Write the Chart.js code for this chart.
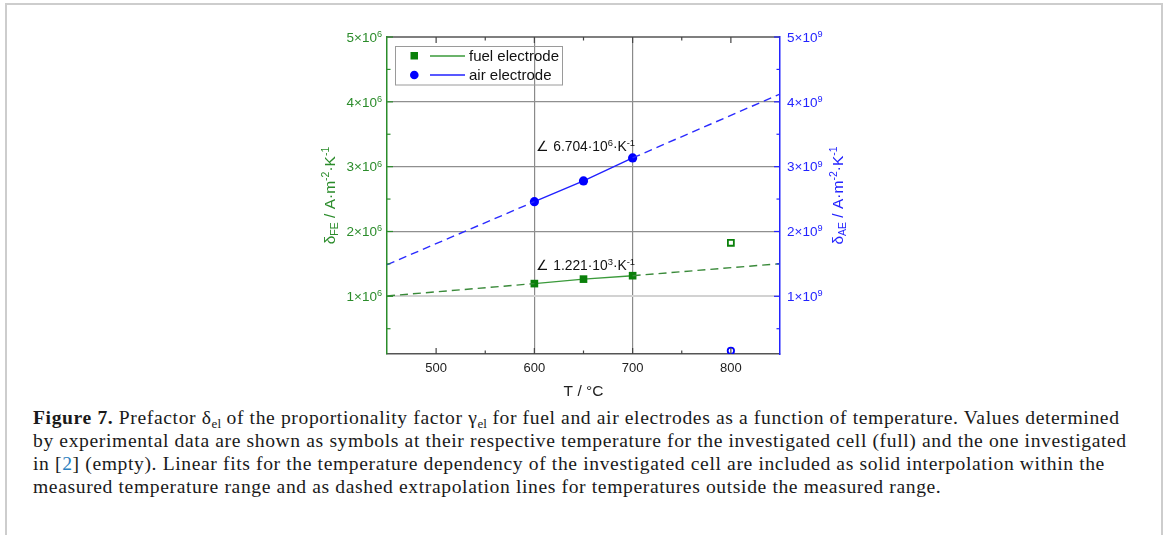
<!DOCTYPE html>
<html><head><meta charset="utf-8">
<script src="https://cdn.jsdelivr.net/npm/chart.js@4"></script>
<style>
html,body{margin:0;padding:0;background:#fff;width:1165px;height:535px;overflow:hidden;}
#frame{position:absolute;left:5px;top:3px;width:1154px;height:560px;border:2px solid #cdcdcd;border-bottom:none;}
#wrap{position:absolute;left:0;top:0;width:1165px;height:400px;}
#cap{position:absolute;left:33px;top:406px;font-family:"Liberation Serif","DejaVu Serif",serif;font-size:19.6px;letter-spacing:0.62px;line-height:23px;color:#1a1a1a;white-space:nowrap;}
#cap .s{font-size:13px;position:relative;top:4px;line-height:0;letter-spacing:0;}
#cap .lk{color:#2a7fc0;}
</style></head><body>
<div id="frame"></div>
<div id="wrap"><canvas id="c" width="1165" height="400"></canvas></div>
<div id="cap"><b>Figure 7.</b> Prefactor δ<span class="s">el</span> of the proportionality factor γ<span class="s">el</span> for fuel and air electrodes as a function of temperature. Values determined<br>by experimental data are shown as symbols at their respective temperature for the investigated cell (full) and the one investigated<br>in [<span class="lk">2</span>] (empty). Linear fits for the temperature dependency of the investigated cell are included as solid interpolation within the<br>measured temperature range and as dashed extrapolation lines for temperatures outside the measured range.</div>
<script>
// ---- data ----
const temps = [600, 650, 700];
const fuelValues = [1.196e6, 1.265e6, 1.318e6];
const airValues = [2.46e9, 2.78e9, 3.134e9];
const refTemps = [800];
const fuelRefValues = [1.826e6];
const airRefValues = [0.16e9];
const extrapTempsLow = [450, 600];
const extrapTempsHigh = [700, 850];
const fuelExtrapLow = [1.005e6, 1.196e6];
const fuelExtrapHigh = [1.318e6, 1.503e6];
const airExtrapLow = [1.488e9, 2.46e9];
const airExtrapHigh = [3.134e9, 4.12e9];
const xTicks = [500, 550, 600, 650, 700, 750, 800];
const xMajor = [500, 600, 700, 800];
const xGridAt = [600, 700];
const leftTicks = [5e5, 1e6, 1.5e6, 2e6, 2.5e6, 3e6, 3.5e6, 4e6, 4.5e6, 5e6];
const leftMajor = [1e6, 2e6, 3e6, 4e6, 5e6];
const rightTicks = [5e8, 1e9, 1.5e9, 2e9, 2.5e9, 3e9, 3.5e9, 4e9, 4.5e9, 5e9];
const rightMajor = [1e9, 2e9, 3e9, 4e9, 5e9];
const leftExp = '6', rightExp = '9';
const seriesNames = ['fuel electrode', 'air electrode'];
const slopeLabels = [
  {mant: '6.704', exp: '6', yVal: 3.32e6},
  {mant: '1.221', exp: '3', yVal: 1.477e6}
];
const xLabelText = 'T / °C';

const GREEN = '#2b8c2b', GREEN_M = '#0a800a', BLUE = '#2323ff', BLUE_M = '#0000ff';
const FONT = '"Liberation Sans", Arial, sans-serif';

function pts(xs, ys){ return xs.map((x,i)=>({x:x, y:ys[i]})); }

function drawRuns(ctx, runs, x, y, align, size){
  const parts = runs.map(r=>{
    const s = (r.sup||r.sub) ? size*0.68 : size;
    ctx.font = s + 'px ' + FONT;
    return {t:r.t, s:s, w:ctx.measureText(r.t).width, dy: r.sup ? -size*0.36 : (r.sub ? size*0.22 : 0)};
  });
  const total = parts.reduce((a,p)=>a+p.w,0);
  let cx = align==='right' ? x-total : (align==='center' ? x-total/2 : x);
  ctx.textAlign='left'; ctx.textBaseline='alphabetic';
  parts.forEach(p=>{ ctx.font = p.s+'px '+FONT; ctx.fillText(p.t, cx, y+p.dy); cx+=p.w; });
}
function ln(ctx,x1,y1,x2,y2){ ctx.beginPath(); ctx.moveTo(x1,y1); ctx.lineTo(x2,y2); ctx.stroke(); }

const overlay = {
  id:'overlay',
  afterDraw(chart){
    const ctx = chart.ctx, ca = chart.chartArea;
    const xs = chart.scales.x, yl = chart.scales.y, yr = chart.scales.y2;
    ctx.save();
    ctx.strokeStyle = '#555'; ctx.lineWidth = 1.5;
    ln(ctx, ca.left, ca.top, ca.right, ca.top);
    ctx.lineWidth = 1.2; ctx.strokeStyle = '#444';
    xTicks.forEach(v=>{
      const px = xs.getPixelForValue(v);
      const len = xMajor.includes(v) ? 6 : 3.5;
      ln(ctx, px, ca.bottom, px, ca.bottom-len);
      ln(ctx, px, ca.top, px, ca.top+len);
    });
    ctx.strokeStyle = GREEN;
    leftTicks.forEach(v=>{
      const py = yl.getPixelForValue(v);
      const len = leftMajor.includes(v) ? 6 : 3.5;
      ln(ctx, ca.left, py, ca.left+len, py);
    });
    ctx.strokeStyle = BLUE;
    rightTicks.forEach(v=>{
      const py = yr.getPixelForValue(v);
      const len = rightMajor.includes(v) ? 6 : 3.5;
      ln(ctx, ca.right, py, ca.right-len, py);
    });
    ctx.fillStyle = GREEN;
    leftMajor.forEach(v=>{
      const py = yl.getPixelForValue(v);
      drawRuns(ctx, [{t:String(Math.round(v/1e6))+'×10'},{t:leftExp,sup:true}], ca.left-5, py+4.8, 'right', 13.5);
    });
    ctx.fillStyle = BLUE;
    rightMajor.forEach(v=>{
      const py = yr.getPixelForValue(v);
      drawRuns(ctx, [{t:String(Math.round(v/1e9))+'×10'},{t:rightExp,sup:true}], ca.right+7, py+4.8, 'left', 13.5);
    });
    ctx.fillStyle = '#222';
    xMajor.forEach(v=>{
      const px = xs.getPixelForValue(v);
      drawRuns(ctx, [{t:String(v)}], px, ca.bottom+17.7, 'center', 13);
    });
    drawRuns(ctx, [{t:xLabelText}], (ca.left+ca.right)/2, ca.bottom+42, 'center', 15.5);
    const cy = (ca.top+ca.bottom)/2;
    const titleRuns = (sub)=>[{t:'δ'},{t:sub,sub:true},{t:' / A·m'},{t:'-2',sup:true},{t:'·K'},{t:'-1',sup:true}];
    ctx.save(); ctx.translate(ca.left-58, cy); ctx.rotate(-Math.PI/2);
    ctx.fillStyle = GREEN; drawRuns(ctx, titleRuns('FE'), 0, 6, 'center', 15.5); ctx.restore();
    ctx.save(); ctx.translate(ca.right+57, cy); ctx.rotate(-Math.PI/2);
    ctx.fillStyle = BLUE; drawRuns(ctx, titleRuns('AE'), 0, 6, 'center', 15.5); ctx.restore();
    ctx.fillStyle = '#111';
    slopeLabels.forEach(s=>{
      const px = xs.getPixelForValue(600)+2, py = yl.getPixelForValue(s.yVal);
      drawRuns(ctx, [{t:'∠ '+s.mant+'·10'},{t:s.exp,sup:true},{t:'·K'},{t:'-1',sup:true}], px, py+5, 'left', 13.8);
    });
    const lx = ca.left+8.5, ly = ca.top+9.5;
    ctx.strokeStyle = '#9a9a9a'; ctx.lineWidth = 1;
    ctx.strokeRect(lx, ly, 167, 38.5);
    ctx.fillStyle = GREEN_M; ctx.fillRect(lx+15, ly+5.5, 7.5, 7.5);
    ctx.strokeStyle = '#3a9a3a'; ctx.lineWidth = 1.3; ln(ctx, lx+34.5, ly+9.5, lx+69.5, ly+9.5);
    ctx.fillStyle = '#111'; drawRuns(ctx, [{t:seriesNames[0]}], lx+73.5, ly+14.5, 'left', 15);
    ctx.fillStyle = BLUE_M; ctx.beginPath(); ctx.arc(lx+18.8, ly+28.5, 4.3, 0, Math.PI*2); ctx.fill();
    ctx.strokeStyle = '#2020ff'; ln(ctx, lx+34.5, ly+28.5, lx+69.5, ly+28.5);
    ctx.fillStyle = '#111'; drawRuns(ctx, [{t:seriesNames[1]}], lx+73.5, ly+33.5, 'left', 15);
    ctx.restore();
  }
};

const zero = (axis)=>{ if (axis.isHorizontal()) axis.height = 0; else axis.width = 0; };
const gridCol = (list, strong, light, lightVal) => (c)=>{
  const v = c.tick && c.tick.value;
  if (v === lightVal) return light;
  return list.includes(v) ? strong : 'rgba(0,0,0,0)';
};

new Chart(document.getElementById('c'), {
  type: 'scatter',
  data: { datasets: [
    {data: pts(extrapTempsLow, fuelExtrapLow), yAxisID:'y', showLine:true, pointRadius:0, borderColor:'#3a8a3a', borderWidth:1.4, borderDash:[8,5]},
    {data: pts(extrapTempsHigh, fuelExtrapHigh), yAxisID:'y', showLine:true, pointRadius:0, borderColor:'#3a8a3a', borderWidth:1.4, borderDash:[8,5]},
    {data: pts(extrapTempsLow, airExtrapLow), yAxisID:'y2', showLine:true, pointRadius:0, borderColor:'#2a2aff', borderWidth:1.4, borderDash:[8,5]},
    {data: pts(extrapTempsHigh, airExtrapHigh), yAxisID:'y2', showLine:true, pointRadius:0, borderColor:'#2a2aff', borderWidth:1.4, borderDash:[8,5]},
    {label: seriesNames[0], data: pts(temps, fuelValues), yAxisID:'y', showLine:true, borderColor:'#3a9a3a', borderWidth:1.4,
      pointStyle:'rect', pointRadius:5.4, pointBackgroundColor:GREEN_M, pointBorderColor:GREEN_M, pointBorderWidth:0},
    {label: seriesNames[1], data: pts(temps, airValues), yAxisID:'y2', showLine:true, borderColor:'#2020ff', borderWidth:1.4,
      pointStyle:'circle', pointRadius:4.6, pointBackgroundColor:BLUE_M, pointBorderColor:BLUE_M, pointBorderWidth:0},
    {data: pts(refTemps, fuelRefValues), yAxisID:'y', showLine:false, pointStyle:'rect', pointRadius:4.2,
      pointBackgroundColor:'#fff', pointBorderColor:GREEN_M, pointBorderWidth:1.8},
    {data: pts(refTemps, airRefValues), yAxisID:'y2', showLine:false, pointStyle:'circle', pointRadius:3.2,
      pointBackgroundColor:'#fff', pointBorderColor:BLUE_M, pointBorderWidth:1.8}
  ]},
  options: {
    responsive:false, animation:false, devicePixelRatio:1,
    layout:{padding:{left:387, right:385, top:37, bottom:46}},
    plugins:{legend:{display:false}, tooltip:{enabled:false}},
    scales:{
      x:{type:'linear', min:450, max:850, position:'bottom',
        afterBuildTicks:(a)=>{a.ticks = xTicks.map(v=>({value:v}));}, afterFit:zero,
        ticks:{display:false}, title:{display:false},
        grid:{drawTicks:false, color:gridCol(xGridAt,'#8a8a8a','#8a8a8a',null), lineWidth:1.2},
        border:{color:'#555', width:1.5}},
      y:{type:'linear', min:1.1e5, max:5e6, position:'left',
        afterBuildTicks:(a)=>{a.ticks = leftTicks.map(v=>({value:v}));}, afterFit:zero,
        ticks:{display:false}, title:{display:false},
        grid:{drawTicks:false, color:gridCol([2e6,3e6,4e6],'#8f8f8f','#d2d2d2',1e6), lineWidth:(c)=> (c.tick && c.tick.value===1e6) ? 2 : 1.2},
        border:{color:GREEN, width:1.5}},
      y2:{type:'linear', min:1.1e8, max:5e9, position:'right',
        afterBuildTicks:(a)=>{a.ticks = rightTicks.map(v=>({value:v}));}, afterFit:zero,
        ticks:{display:false}, title:{display:false},
        grid:{drawOnChartArea:false, drawTicks:false},
        border:{color:BLUE, width:1.5}}
    }
  },
  plugins:[overlay]
});
</script>
</body></html>
